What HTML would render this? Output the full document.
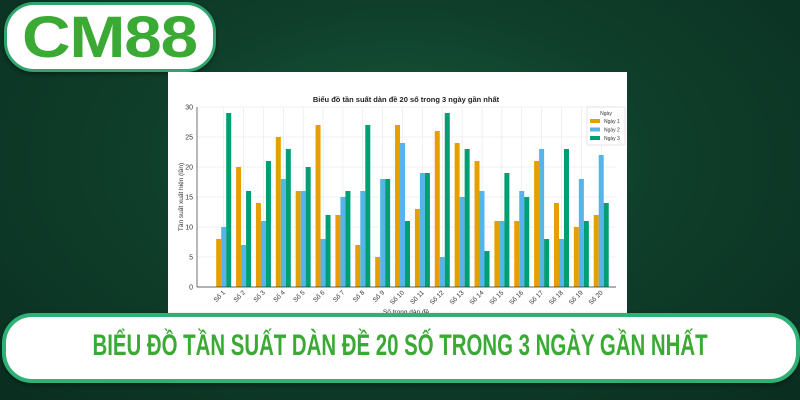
<!DOCTYPE html>
<html><head><meta charset="utf-8"><style>
html,body{margin:0;padding:0}
body{width:800px;height:400px;overflow:hidden;position:relative;background:radial-gradient(ellipse at 50% 40%,#175a3c 0%,#0f3f2b 45%,#0a2e20 100%);font-family:"Liberation Sans",sans-serif}
#logo{position:absolute;left:4px;top:2px;width:206px;height:64px;background:#fff;border:3px solid #2fa56d;border-radius:30px;box-shadow:0 2px 4px rgba(0,0,0,.4)}
#logo span{position:absolute;left:15px;top:-1px;font-weight:bold;font-size:58px;color:#3aaa35;letter-spacing:-1px;display:inline-block;transform:scaleX(1.16);transform-origin:left}
#panel{position:absolute;left:168px;top:72px;width:459px;height:250px;background:#fff}
#banner{position:absolute;left:2px;top:313px;width:790px;height:62px;background:#fff;border:4px solid #2fb074;border-radius:30px;box-shadow:0 2px 4px rgba(0,0,0,.4)}
#banner span{position:absolute;left:394px;top:12px;font-family:"Liberation Sans Narrow","Liberation Sans",sans-serif;font-weight:bold;font-size:30px;color:#3aaa35;white-space:nowrap;transform:translateX(-50%) scaleX(0.68);transform-origin:center}
</style></head><body>
<div id="logo"><span>CM88</span></div>
<div id="panel"></div>
<svg id="c" width="800" height="400" style="position:absolute;left:0;top:0"></svg>
<div id="banner"><span>BIỂU ĐỒ TẦN SUẤT DÀN ĐỀ 20 SỐ TRONG 3 NGÀY GẦN NHẤT</span></div>
<script>
var d=[[8,10,29],[20,7,16],[14,11,21],[25,18,23],[16,16,20],[27,8,12],[12,15,16],[7,16,27],[5,18,18],[27,24,11],[13,19,19],[26,5,29],[24,15,23],[21,16,6],[11,11,19],[11,16,15],[21,23,8],[14,8,23],[10,18,11],[12,22,14]];
var col=["#E69F00","#56B4E9","#009E73"];
var s="";var L=197,R=616,T=107,B=287;
function y(v){return B-v*6;}
for(var v=0;v<=30;v+=5){s+='<line x1="'+L+'" x2="'+R+'" y1="'+y(v)+'" y2="'+y(v)+'" stroke="#e6e6e6" stroke-width="0.6"/>';
s+='<text x="'+(L-4)+'" y="'+(y(v)+2.5)+'" font-size="7" text-anchor="end" fill="#333">'+v+'</text>';}
for(var i=0;i<20;i++){var cx=223.7+i*19.87;
s+='<line x1="'+cx+'" x2="'+cx+'" y1="'+T+'" y2="'+B+'" stroke="#e6e6e6" stroke-width="0.6"/>';}
for(var i=0;i<20;i++){var cx=223.7+i*19.87;
for(var k=0;k<3;k++){var h=d[i][k]*6;s+='<rect x="'+(cx-7.5+k*5)+'" y="'+(B-h)+'" width="5" height="'+h+'" fill="'+col[k]+'"/>';}
s+='<text transform="translate('+(cx+2)+','+(B+6)+') rotate(-45)" font-size="6.5" text-anchor="end" fill="#333">Số '+(i+1)+'</text>';}
s+='<line x1="'+L+'" x2="'+L+'" y1="'+T+'" y2="'+B+'" stroke="#333" stroke-width="0.7"/>';
s+='<line x1="'+L+'" x2="'+R+'" y1="'+B+'" y2="'+B+'" stroke="#333" stroke-width="0.7"/>';
s+='<text x="406" y="102" font-size="7.5" font-weight="bold" text-anchor="middle" fill="#222">Biểu đồ tần suất dàn đề 20 số trong 3 ngày gần nhất</text>';
s+='<text transform="translate(183,197) rotate(-90)" font-size="6.5" text-anchor="middle" fill="#333">Tần suất xuất hiện (lần)</text>';
s+='<text x="406" y="314" font-size="6.5" text-anchor="middle" fill="#333">Số trong dàn đề</text>';
s+='<rect x="587" y="107" width="38" height="38" fill="#fff" stroke="#ccc" stroke-width="0.5" rx="1"/>';
s+='<text x="606" y="115" font-size="5" text-anchor="middle" fill="#333">Ngày</text>';
for(var k=0;k<3;k++){s+='<rect x="590" y="'+(119+k*8.5)+'" width="10" height="4" fill="'+col[k]+'"/><text x="604" y="'+(123+k*8.5)+'" font-size="5" fill="#333">Ngày '+(k+1)+'</text>';}
document.getElementById("c").innerHTML=s;
</script>
</body></html>
